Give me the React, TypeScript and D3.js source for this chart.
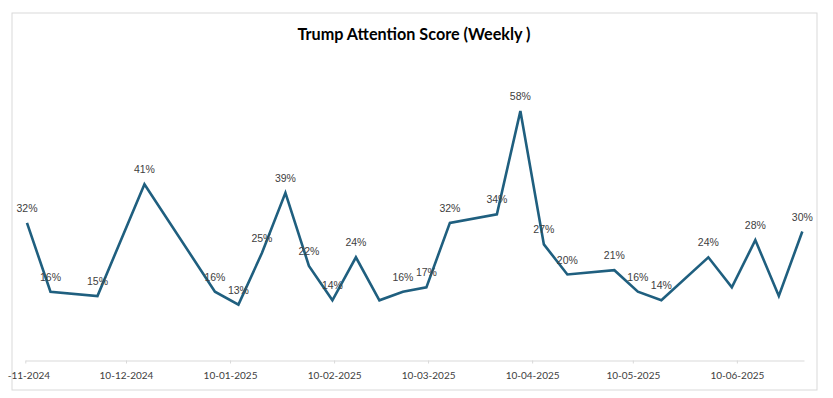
import React, { useEffect, useRef } from 'react';
import * as d3 from 'd3';

// weekly data points (date, score in %)
const dates = [
  '2024-11-10', '2024-11-17', '2024-12-01', '2024-12-15', '2025-01-05', '2025-01-12',
  '2025-01-19', '2025-01-26', '2025-02-02', '2025-02-09', '2025-02-16', '2025-02-23',
  '2025-03-02', '2025-03-09', '2025-03-16', '2025-03-30', '2025-04-06', '2025-04-13',
  '2025-04-20', '2025-05-04', '2025-05-11', '2025-05-18', '2025-06-01', '2025-06-08',
  '2025-06-15', '2025-06-22', '2025-06-29',
];
const scores = [
  32, 16, 15, 41, 16, 13,
  25, 39, 22, 14, 24, 14,
  16, 17, 32, 34, 58, 27,
  20, 21, 16, 14, 24, 17,
  28, 15, 30,
];
// which points carry a data label
const showLabel = [
  true, true, true, true, true, true,
  true, true, true, true, true, false,
  true, true, true, true, true, true,
  true, true, true, true, true, false,
  true, false, true,
];
const tickDates = [
  '2024-11-10', '2024-12-10', '2025-01-10', '2025-02-10',
  '2025-03-10', '2025-04-10', '2025-05-10', '2025-06-10',
];
const title = 'Trump Attention Score (Weekly )';

const W = 833;
const H = 398;

const App = () => {
  const ref = useRef<SVGSVGElement | null>(null);

  useEffect(() => {
    const svg = d3.select(ref.current);
    svg.selectAll('*').remove();

    const parse = (s: string) => new Date(s + 'T00:00:00');
    const halfDay = (d: Date) => new Date(d.getTime() + 12 * 3600 * 1000);

    const x = d3
      .scaleTime()
      .domain([parse('2024-11-10'), parse('2025-06-30')])
      .range([25.3, 804]);
    const y = d3.scaleLinear().domain([0, 70]).range([360.5, 59.5]);

    const data = dates.map((d, i) => ({
      date: halfDay(parse(d)),
      value: scores[i],
      label: showLabel[i],
    }));

    // chart border
    svg
      .append('rect')
      .attr('x', 12)
      .attr('y', 13)
      .attr('width', 805)
      .attr('height', 377)
      .attr('fill', '#fff')
      .attr('stroke', '#d9d9d9')
      .attr('stroke-width', 1);

    // first tick label is cut off on the left, as in the original
    svg
      .append('defs')
      .append('clipPath')
      .attr('id', 'clipL')
      .append('rect')
      .attr('x', 5)
      .attr('y', 0)
      .attr('width', W)
      .attr('height', H);

    // title
    svg
      .append('text')
      .attr('x', 414)
      .attr('y', 40)
      .attr('text-anchor', 'middle')
      .style('font-family', 'Lato, sans-serif')
      .style('font-weight', 'bold')
      .style('font-size', '16.2px')
      .attr('fill', '#000')
      .text(title);

    // x axis
    const axis = d3
      .axisBottom<Date>(x)
      .tickValues(tickDates.map(parse))
      .tickFormat((d: any, i: number) =>
        i === 0 ? '-' + d3.timeFormat('%m-%Y')(d) : d3.timeFormat('%d-%m-%Y')(d)
      )
      .tickSizeInner(3)
      .tickSizeOuter(0)
      .tickPadding(8);

    const gx = svg
      .append('g')
      .attr('transform', 'translate(0,360.5)')
      .call(axis as any);
    gx.select('.domain').attr('stroke', '#d9d9d9');
    gx.selectAll('.tick line').attr('stroke', '#d9d9d9');
    gx.selectAll('.tick text')
      .attr('fill', '#404040')
      .style('font-family', 'Lato, sans-serif')
      .style('font-size', '10px');
    // cut-off first label sits flush with the left edge
    gx.selectAll('.tick text')
      .filter((_d, i) => i === 0)
      .attr('text-anchor', 'start')
      .attr('x', -18);

    // line
    const line = d3
      .line<{ date: Date; value: number }>()
      .x((d) => x(d.date))
      .y((d) => y(d.value));

    svg
      .append('path')
      .datum(data)
      .attr('d', line)
      .attr('fill', 'none')
      .attr('stroke', '#1f5f7f')
      .attr('stroke-width', 2.6)
      .attr('stroke-linejoin', 'miter');

    // data labels
    svg
      .append('g')
      .selectAll('text')
      .data(data.filter((d) => d.label))
      .enter()
      .append('text')
      .attr('x', (d) => x(d.date))
      .attr('y', (d) => y(d.value) - 11)
      .attr('text-anchor', 'middle')
      .style('font-family', '"Liberation Sans", Arial, sans-serif')
      .style('font-size', '10.5px')
      .attr('fill', '#404040')
      .text((d) => `${d.value}%`);
  }, []);

  return (
    <svg
      ref={ref}
      width={W}
      height={H}
      style={{ position: 'absolute', left: 0, top: 0, background: '#fff' }}
    />
  );
};

export default App;
